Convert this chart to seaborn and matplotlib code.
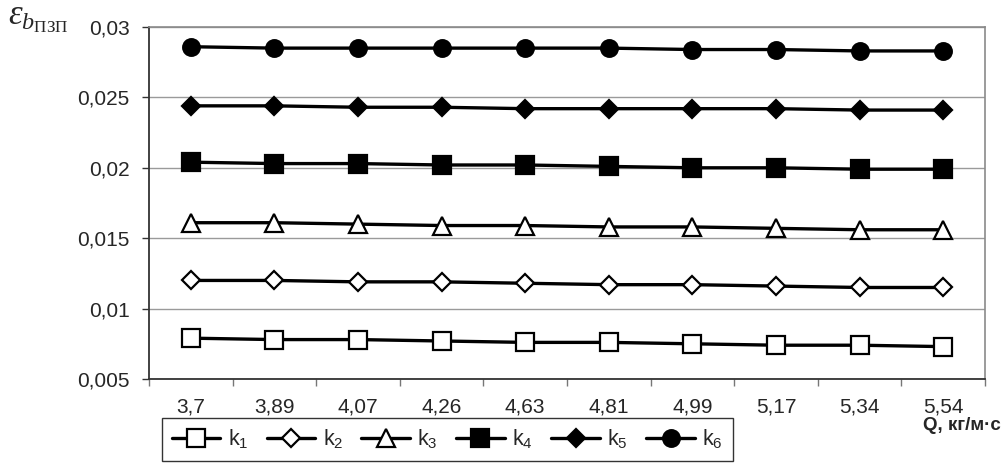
import numpy as np
import pandas as pd
import matplotlib
matplotlib.use('Agg')
import matplotlib.pyplot as plt
from matplotlib.ticker import FuncFormatter, FixedLocator
import seaborn as sns

# --- dane ---
q_labels = ['3,7', '3,89', '4,07', '4,26', '4,63', '4,81', '4,99', '5,17', '5,34', '5,54']
k1 = [0.0079, 0.0078, 0.0078, 0.0077, 0.0076, 0.0076, 0.0075, 0.0074, 0.0074, 0.0073]
k2 = [0.0120, 0.0120, 0.0119, 0.0119, 0.0118, 0.0117, 0.0117, 0.0116, 0.0115, 0.0115]
k3 = [0.0161, 0.0161, 0.0160, 0.0159, 0.0159, 0.0158, 0.0158, 0.0157, 0.0156, 0.0156]
k4 = [0.0204, 0.0203, 0.0203, 0.0202, 0.0202, 0.0201, 0.0200, 0.0200, 0.0199, 0.0199]
k5 = [0.0244, 0.0244, 0.0243, 0.0243, 0.0242, 0.0242, 0.0242, 0.0242, 0.0241, 0.0241]
k6 = [0.0286, 0.0285, 0.0285, 0.0285, 0.0285, 0.0285, 0.0284, 0.0284, 0.0283, 0.0283]
series_names = [r'$\mathregular{k_1}$', r'$\mathregular{k_2}$', r'$\mathregular{k_3}$',
                r'$\mathregular{k_4}$', r'$\mathregular{k_5}$', r'$\mathregular{k_6}$']

sns.set_style('white')
plt.rcParams['font.family'] = ['Liberation Sans', 'DejaVu Sans']
plt.rcParams['mathtext.rm'] = 'Liberation Serif'
plt.rcParams['mathtext.it'] = 'Liberation Serif:italic'

# styl markerów dla każdej serii
styles = [
    dict(marker='s', markersize=13, markerfacecolor='white'),
    dict(marker='D', markersize=9, markerfacecolor='white'),
    dict(marker='^', markersize=13.5, markerfacecolor='white'),
    dict(marker='s', markersize=13, markerfacecolor='black'),
    dict(marker='D', markersize=9, markerfacecolor='black'),
    dict(marker='o', markersize=12, markerfacecolor='black'),
]

fig = plt.figure(figsize=(10.08, 4.65), dpi=100)
ax = fig.add_axes([149 / 1008, 1 - 379 / 465, (985 - 149) / 1008, (379 - 27) / 465])

x_pos = np.arange(len(q_labels))
for vals, name, st in zip([k1, k2, k3, k4, k5, k6], series_names, styles):
    df = pd.DataFrame({'x': x_pos, 'eps': vals})
    sns.lineplot(data=df, x='x', y='eps', ax=ax, color='black', linewidth=2.4,
                 markeredgecolor='black', markeredgewidth=1.6, label=name,
                 legend=False, **st)

ax.set_xlim(-0.5, len(q_labels) - 0.5)
ax.set_ylim(0.005, 0.03)
ax.set_yticks(np.arange(0.005, 0.0301, 0.005))
ax.yaxis.set_major_formatter(FuncFormatter(lambda v, p: f'{round(v, 3):g}'.replace('.', ',')))
ax.set_xticks(x_pos)
ax.set_xticklabels(q_labels)
ax.xaxis.set_minor_locator(FixedLocator(np.arange(-0.5, len(q_labels), 1.0)))
ax.grid(axis='y', color='#9a9a9a', linewidth=1)
ax.set_xlabel('')
ax.set_ylabel('')

ax.tick_params(axis='x', which='major', length=0, pad=13, labelsize=15)
ax.tick_params(axis='x', which='minor', length=5, width=1, color='#777777', direction='out', bottom=True)
ax.tick_params(axis='y', length=5, width=1, color='#333333', pad=9, labelsize=15, left=True)

for side in ['left', 'bottom']:
    ax.spines[side].set_color('#333333')
    ax.spines[side].set_linewidth(1.3)
for side in ['top', 'right']:
    ax.spines[side].set_color('#8a8a8a')
    ax.spines[side].set_linewidth(1.2)

# oznaczenie osi Y
fig.text(0.008, 1 - 2 / 465, r'$\varepsilon_{b_{\mathrm{ПЗП}}}$', fontsize=25,
         ha='left', va='top', math_fontfamily='custom')
fig.text(1001 / 1008, 1 - 425 / 465, 'Q, кг/м·с', fontsize=13.5, fontweight='bold',
         ha='right', va='center')

leg = fig.legend(handles=ax.get_lines(), labels=series_names, ncol=6,
                 loc='upper left', bbox_to_anchor=(162 / 1008, 1 - 418 / 465),
                 frameon=True, fancybox=False, edgecolor='black', fontsize=15.5,
                 handlelength=2.25, handletextpad=0.35, columnspacing=0.85,
                 borderpad=0.45, borderaxespad=0)
leg.get_frame().set_linewidth(1.0)

fig.savefig('out.png', dpi=100)
